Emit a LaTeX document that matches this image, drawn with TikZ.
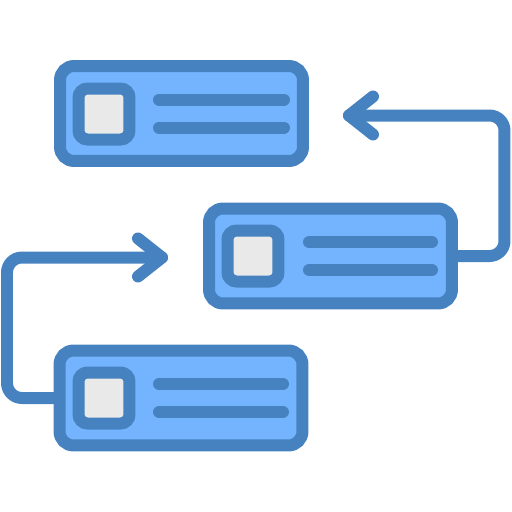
\documentclass[tikz,border=0pt]{standalone}
\usepackage{tikz}

\definecolor{edgeblue}{RGB}{70,130,192}
\definecolor{cardblue}{RGB}{116,180,255}
\definecolor{photogray}{RGB}{233,233,233}

\begin{document}
\begin{tikzpicture}[x=0.02cm, y=-0.02cm,
	card/.style={draw=edgeblue, fill=cardblue, line width=0.24cm, rounded corners=0.28cm,
		minimum width=4.86cm, minimum height=1.9cm, inner sep=0pt},
	photo/.style={draw=edgeblue, fill=photogray, line width=0.24cm, rounded corners=0.18cm,
		minimum size=1.02cm, inner sep=0pt},
	bar/.style={draw=edgeblue, line width=0.24cm, line cap=round},
	link/.style={draw=edgeblue, line width=0.24cm, line cap=round, line join=round, rounded corners=0.3cm}]
	\useasboundingbox (0,0) rectangle (512,512);
	
	% the three cards
	\node[card] (top) at (181.5,113.5) {};
	\node[card] (mid) at (330.5,256) {};
	\node[card] (bot) at (181,398) {};
	
	\node[photo] (ptop) at (104,114) {};
	\node[photo] (pmid) at (253,256) {};
	\node[photo] (pbot) at (104,398) {};
	
	\draw[bar] (159,99.5) -- (284,99.5);
	\draw[bar] (159,127.5) -- (284,127.5);
	\draw[bar] (309,242) -- (432,242);
	\draw[bar] (309,270) -- (432,270);
	\draw[bar] (159,384) -- (283,384);
	\draw[bar] (159,412) -- (283,412);
	
	% arrows
	\coordinate (tipR) at (349,115.5);
	\coordinate (tipL) at (162,257.5);
	\coordinate (turnR) at (504.5,115.5);
	\coordinate (turnL) at (7,257.5);
	
	\path[link] (mid.east) -| (turnR) -- (tipR);
	\path[link] (bot.west) -| (turnL) -- (tipL);
	\draw[bar, line join=round] (tipR) ++(24,-19) -- (tipR) -- ++(24,19);
	\draw[bar, line join=round] (tipL) ++(-24,-19) -- (tipL) -- ++(-24,19);
\end{tikzpicture}
\end{document}
